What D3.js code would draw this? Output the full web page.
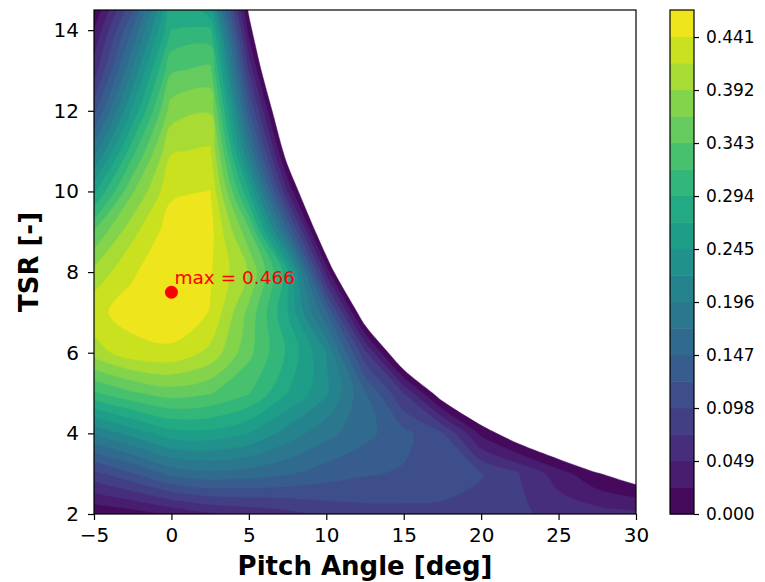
<!DOCTYPE html>
<html>
<head>
<meta charset="utf-8">
<script src="https://cdnjs.cloudflare.com/ajax/libs/d3/7.8.5/d3.min.js"></script>
<style>
  body { margin: 0; background: #fff; }
  text { font-family: "DejaVu Sans", sans-serif; }
</style>
</head>
<body>
<div id="chart"></div>
<script>
// grid columns: pitch angle [deg]
var pitch = [-5, -2.5, 0, 2.5, 5, 7.5, 10, 12.5, 15, 17.5, 20, 22.5, 25, 27.5, 30];
// grid rows: tip speed ratio
var tsr = [2, 3, 4, 5, 6, 7, 8, 9, 10, 11, 12, 13, 14, 15];

// power coefficient, one row per TSR (below 0 is left blank)
var cpTsr2  = [0.003, 0.012, 0.028, 0.045, 0.055, 0.065, 0.08, 0.088, 0.09, 0.09, 0.088, 0.078, 0.066, 0.06, 0.055];
var cpTsr3  = [0.09, 0.12, 0.155, 0.165, 0.16, 0.15, 0.135, 0.125, 0.12, 0.115, 0.1, 0.073, 0.036, 0.002, -0.0203];
var cpTsr4  = [0.2, 0.23, 0.26, 0.262, 0.245, 0.21, 0.18, 0.155, 0.13, 0.1, 0.018, -0.027, -0.064, -0.098, -0.15];
var cpTsr5  = [0.315, 0.34, 0.355, 0.345, 0.32, 0.27, 0.225, 0.15, 0.073, -0.025, -0.072, -0.13, -0.18, -0.23, -0.28];
var cpTsr6  = [0.405, 0.432, 0.435, 0.41, 0.35, 0.29, 0.22, 0.08, -0.053, -0.1, -0.16, -0.22, -0.28, -0.33, -0.38];
var cpTsr7  = [0.435, 0.452, 0.462, 0.44, 0.36, 0.27, 0.15, -0.0375, -0.13, -0.19, -0.25, -0.31, -0.37, -0.42, -0.47];
var cpTsr8  = [0.4, 0.438, 0.464, 0.444, 0.39, 0.28, 0.04, -0.16, -0.22, -0.28, -0.34, -0.4, -0.45, -0.5, -0.55];
var cpTsr9  = [0.345, 0.41, 0.455, 0.45, 0.35, 0.154, -0.06, -0.2, -0.26, -0.32, -0.38, -0.44, -0.5, -0.55, -0.6];
var cpTsr10 = [0.265, 0.365, 0.437, 0.442, 0.27, 0.048, -0.123, -0.25, -0.3, -0.36, -0.42, -0.48, -0.54, -0.6, -0.65];
var cpTsr11 = [0.185, 0.31, 0.415, 0.42, 0.19, -0.026, -0.2, -0.28, -0.34, -0.4, -0.46, -0.52, -0.58, -0.64, -0.7];
var cpTsr12 = [0.115, 0.25, 0.38, 0.39, 0.128, -0.085, -0.25, -0.32, -0.38, -0.44, -0.5, -0.56, -0.62, -0.68, -0.74];
var cpTsr13 = [0.06, 0.2, 0.34, 0.35, 0.07, -0.149, -0.3, -0.36, -0.42, -0.48, -0.54, -0.6, -0.66, -0.72, -0.78];
var cpTsr14 = [0.025, 0.15, 0.295, 0.3, 0.0145, -0.167, -0.35, -0.4, -0.46, -0.52, -0.58, -0.64, -0.7, -0.76, -0.82];
var cpTsr15 = [-0.02, 0.09, 0.26, 0.198, -0.027, -0.25, -0.4, -0.45, -0.5, -0.56, -0.62, -0.68, -0.74, -0.8, -0.86];

// best operating point
var maxPitch = 0;
var maxTsr = 7.5;
var maxCp = 0.466;

// ticks
var xTicks = [-5, 0, 5, 10, 15, 20, 25, 30];
var yTicks = [2, 4, 6, 8, 10, 12, 14];
var cbarTicks = [0.000, 0.049, 0.098, 0.147, 0.196, 0.245, 0.294, 0.343, 0.392, 0.441];

var cpRows = [cpTsr2, cpTsr3, cpTsr4, cpTsr5, cpTsr6, cpTsr7, cpTsr8, cpTsr9,
              cpTsr10, cpTsr11, cpTsr12, cpTsr13, cpTsr14, cpTsr15];

var width = 765, height = 582;
var plot = {left: 94, right: 636, top: 10, bottom: 514};
var cbar = {left: 670, right: 694};

// 20 levels from 0 to the max -> 19 filled bands, like contourf
var nBands = 19;
var levels = d3.range(nBands + 1).map(function(i){ return i * maxCp / nBands; });
var bandColor = function(i){ return d3.interpolateViridis((i + 0.5) / nBands); };

var svg = d3.select("#chart").append("svg")
    .attr("width", width)
    .attr("height", height);

var x = d3.scaleLinear().domain([-5, 30]).range([plot.left, plot.right]);
var y = d3.scaleLinear().domain([2, 14.5]).range([plot.bottom, plot.top]);

// one hidden cell is added on every side (continued linearly) so lines that
// run into the frame keep their direction instead of bending along the grid edge
function padRow(row) {
    var n = row.length;
    return [2 * row[0] - row[1]].concat(row, [2 * row[n - 1] - row[n - 2]]);
}
var padded = cpRows.map(padRow);
var ny = padded.length;
padded.unshift(padded[0].map(function(v, i){ return 2 * v - padded[1][i]; }));
padded.push(padded[ny].map(function(v, i){ return 2 * v - padded[ny - 1][i]; }));

var nx = pitch.length + 2;
var values = [];
padded.forEach(function(row){
    row.forEach(function(v){ values.push(v); });
});

// d3.contours puts value i at grid coordinate i + 0.5 (index 0 is the hidden cell)
var gridPitch = d3.scaleLinear().domain([1.5, pitch.length + 0.5]).range([pitch[0], pitch[pitch.length - 1]]);
var gridTsr = d3.scaleLinear().domain([1.5, tsr.length + 0.5]).range([tsr[0], tsr[tsr.length - 1]]);

var contours = d3.contours()
    .size([nx, padded.length])
    .thresholds(levels.slice(0, nBands))(values);

// rings are drawn as closed curves so the coarse grid doesn't look faceted
var ringLine = d3.line().curve(d3.curveCatmullRomClosed.alpha(0.5));

function contourPath(geom) {
    var d = "";
    geom.coordinates.forEach(function(polygon){
        polygon.forEach(function(ring){
            var pts = ring.slice(0, -1).map(function(p){
                return [x(gridPitch(p[0])), y(gridTsr(p[1]))];
            });
            if (pts.length > 2) d += ringLine(pts);
        });
    });
    return d;
}

svg.append("clipPath").attr("id", "plot-clip")
  .append("rect")
    .attr("x", plot.left)
    .attr("y", plot.top)
    .attr("width", plot.right - plot.left)
    .attr("height", plot.bottom - plot.top);

svg.append("g")
    .attr("clip-path", "url(#plot-clip)")
  .selectAll("path")
  .data(contours)
  .enter().append("path")
    .attr("d", contourPath)
    .attr("fill", function(d, i){ return bandColor(i); })
    .attr("stroke", function(d, i){ return bandColor(i); })
    .attr("stroke-width", 0.4);

// max marker + note
svg.append("circle")
    .attr("cx", x(maxPitch))
    .attr("cy", y(maxTsr))
    .attr("r", 6.5)
    .attr("fill", "red");

svg.append("text")
    .attr("x", x(maxPitch + 0.2))
    .attr("y", y(maxTsr + 0.2))
    .attr("fill", "red")
    .attr("font-size", 18.5)
    .text("max = " + maxCp.toFixed(3));

// axes
var fmt = function(d){ return d < 0 ? "\u2212" + Math.abs(d) : d; };

var xAxis = svg.append("g")
    .attr("transform", "translate(0," + plot.bottom + ")")
    .call(d3.axisBottom(x).tickValues(xTicks).tickSize(6).tickPadding(8).tickFormat(fmt));

var yAxis = svg.append("g")
    .attr("transform", "translate(" + plot.left + ",0)")
    .call(d3.axisLeft(y).tickValues(yTicks).tickSize(6).tickPadding(9).tickFormat(fmt));

[xAxis, yAxis].forEach(function(ax){
    ax.select(".domain").remove();
    ax.selectAll("line").attr("stroke", "#000").attr("stroke-width", 1.2);
    ax.selectAll("text")
        .attr("fill", "#000")
        .attr("font-size", 20)
        .attr("font-family", "DejaVu Sans, sans-serif");
});

svg.append("rect")
    .attr("x", plot.left)
    .attr("y", plot.top)
    .attr("width", plot.right - plot.left)
    .attr("height", plot.bottom - plot.top)
    .attr("fill", "none")
    .attr("stroke", "#000")
    .attr("stroke-width", 1.2);

svg.append("text")
    .attr("x", (plot.left + plot.right) / 2)
    .attr("y", 575)
    .attr("text-anchor", "middle")
    .attr("font-size", 26)
    .attr("font-weight", "bold")
    .text("Pitch Angle [deg]");

svg.append("text")
    .attr("transform", "translate(38," + (plot.top + plot.bottom) / 2 + ") rotate(-90)")
    .attr("text-anchor", "middle")
    .attr("font-size", 26)
    .attr("font-weight", "bold")
    .text("TSR [-]");

// colorbar
var c = d3.scaleLinear().domain([0, maxCp]).range([plot.bottom, plot.top]);

svg.append("g").selectAll("rect")
  .data(d3.range(nBands))
  .enter().append("rect")
    .attr("x", cbar.left)
    .attr("y", function(i){ return c(levels[i + 1]); })
    .attr("width", cbar.right - cbar.left)
    .attr("height", function(i){ return c(levels[i]) - c(levels[i + 1]) + 0.5; })
    .attr("fill", function(i){ return bandColor(i); });

svg.append("rect")
    .attr("x", cbar.left)
    .attr("y", plot.top)
    .attr("width", cbar.right - cbar.left)
    .attr("height", plot.bottom - plot.top)
    .attr("fill", "none")
    .attr("stroke", "#000")
    .attr("stroke-width", 1.2);

var cAxis = svg.append("g")
    .attr("transform", "translate(" + cbar.right + ",0)")
    .call(d3.axisRight(c).tickValues(cbarTicks).tickSize(5).tickPadding(7).tickFormat(d3.format(".3f")));

cAxis.select(".domain").remove();
cAxis.selectAll("line").attr("stroke", "#000").attr("stroke-width", 1.2);
cAxis.selectAll("text")
    .attr("fill", "#000")
    .attr("font-size", 17)
    .attr("font-family", "DejaVu Sans, sans-serif");
</script>
</body>
</html>
